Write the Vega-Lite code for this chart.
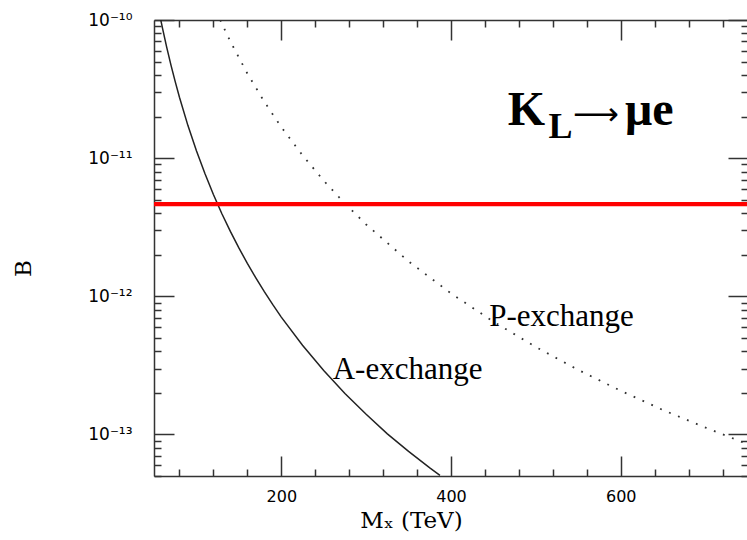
{
  "$schema": "https://vega.github.io/schema/vega-lite/v6.json",
  "width": 594,
  "height": 456,
  "autosize": "none",
  "padding": {"left": 154, "top": 20, "right": 0, "bottom": 64},
  "background": "white",
  "config": {
    "view": {"stroke": null},
    "axis": {
      "grid": false,
      "domainColor": "#333333",
      "domainWidth": 1.5,
      "tickColor": "#333333",
      "tickWidth": 1.5,
      "labelFont": "DejaVu Sans",
      "labelFontSize": 16,
      "labelColor": "#000000",
      "titleFont": "DejaVu Serif",
      "titleFontWeight": "normal",
      "titleFontSize": 23,
      "titleColor": "#000000"
    }
  },
  "datasets": {
    "A": [
      {"M": 58, "B": 1e-10}, {"M": 60, "B": 8.73e-11}, {"M": 65, "B": 6.34e-11},
      {"M": 70, "B": 4.71e-11}, {"M": 75, "B": 3.58e-11}, {"M": 80, "B": 2.76e-11},
      {"M": 90, "B": 1.72e-11}, {"M": 100, "B": 1.13e-11}, {"M": 110, "B": 7.73e-12},
      {"M": 120, "B": 5.46e-12}, {"M": 130, "B": 3.96e-12}, {"M": 140, "B": 2.95e-12},
      {"M": 150, "B": 2.24e-12}, {"M": 160, "B": 1.73e-12}, {"M": 170, "B": 1.36e-12},
      {"M": 180, "B": 1.08e-12}, {"M": 190, "B": 8.69e-13}, {"M": 200, "B": 7.07e-13},
      {"M": 225, "B": 4.42e-13}, {"M": 250, "B": 2.90e-13}, {"M": 275, "B": 1.98e-13},
      {"M": 300, "B": 1.40e-13}, {"M": 325, "B": 1.01e-13}, {"M": 350, "B": 7.54e-14},
      {"M": 375, "B": 5.72e-14}, {"M": 387, "B": 5.05e-14}
    ],
    "P": [
      {"M": 128, "B": 1e-10}, {"M": 140, "B": 6.99e-11}, {"M": 160, "B": 4.10e-11},
      {"M": 180, "B": 2.56e-11}, {"M": 200, "B": 1.68e-11}, {"M": 225, "B": 1.05e-11},
      {"M": 250, "B": 6.87e-12}, {"M": 275, "B": 4.69e-12}, {"M": 300, "B": 3.31e-12},
      {"M": 350, "B": 1.79e-12}, {"M": 400, "B": 1.05e-12}, {"M": 450, "B": 6.55e-13},
      {"M": 500, "B": 4.29e-13}, {"M": 550, "B": 2.93e-13}, {"M": 600, "B": 2.07e-13},
      {"M": 650, "B": 1.50e-13}, {"M": 700, "B": 1.12e-13}, {"M": 750, "B": 8.48e-14}
    ],
    "limit": [{"B": 4.65e-12}],
    "bigText": [
      {"M": 467, "B": 1.73e-11, "t": "K"},
      {"M": 605, "B": 1.73e-11, "t": "μe"}
    ],
    "arrowText": [{"M": 543.8, "B": 1.73e-11, "t": "⟶"}],
    "subText": [{"M": 515, "B": 1.41e-11, "t": "L"}],
    "labels": [
      {"M": 260.6, "B": 2.52e-13, "t": "A-exchange"},
      {"M": 445, "B": 6.13e-13, "t": "P-exchange"}
    ]
  },
  "layer": [
    {
      "data": {"name": "A"},
      "mark": {"type": "line", "color": "#222222", "strokeWidth": 1.5, "clip": true},
      "encoding": {
        "x": {
          "field": "M", "type": "quantitative",
          "scale": {"domain": [50, 750], "nice": false, "zero": false},
          "axis": {
            "orient": "bottom",
            "values": [80, 120, 160, 200, 240, 280, 320, 360, 400, 440, 480, 520, 560, 600, 640, 680, 720],
            "tickSize": {"condition": {"test": "datum.value % 200 === 0", "value": -20}, "value": -7},
            "labelExpr": "datum.value % 200 === 0 ? datum.label : ''",
            "labelPadding": 32,
            "labelOverlap": false,
            "labelFlush": false,
            "title": "Mₓ  (TeV)",
            "titleX": 257,
            "titleY": 51,
            "titleBaseline": "alphabetic"
          }
        },
        "y": {
          "field": "B", "type": "quantitative",
          "scale": {"type": "log", "domain": [5e-14, 1e-10], "nice": false},
          "axis": {
            "orient": "left",
            "values": [5e-14, 6e-14, 7e-14, 8e-14, 9e-14, 1e-13, 2e-13, 3e-13, 4e-13, 5e-13, 6e-13, 7e-13, 8e-13, 9e-13, 1e-12, 2e-12, 3e-12, 4e-12, 5e-12, 6e-12, 7e-12, 8e-12, 9e-12, 1e-11, 2e-11, 3e-11, 4e-11, 5e-11, 6e-11, 7e-11, 8e-11, 9e-11, 1e-10],
            "tickSize": {"condition": {"test": "datum.value == 1e-10 || datum.value == 1e-11 || datum.value == 1e-12 || datum.value == 1e-13", "value": -20}, "value": -7},
            "labelExpr": "datum.value == 1e-10 ? '10⁻¹⁰' : datum.value == 1e-11 ? '10⁻¹¹' : datum.value == 1e-12 ? '10⁻¹²' : datum.value == 1e-13 ? '10⁻¹³' : ''",
            "labelFontSize": 17,
            "labelPadding": 42,
            "labelOverlap": false,
            "labelFlush": false,
            "title": "B",
            "titleX": -131,
            "titleY": 248,
            "titleAngle": 270,
            "titleBaseline": "middle",
            "titleAlign": "center"
          }
        }
      }
    },
    {
      "data": {"name": "P"},
      "mark": {"type": "line", "color": "#333333", "strokeWidth": 1.8, "strokeDash": [1.8, 7.9], "clip": true},
      "encoding": {
        "x": {"field": "M", "type": "quantitative", "axis": null},
        "y": {"field": "B", "type": "quantitative", "axis": null}
      }
    },
    {
      "data": {"name": "limit"},
      "mark": {"type": "rule", "color": "#ff0000", "strokeWidth": 4.3},
      "encoding": {
        "y": {"field": "B", "type": "quantitative", "axis": null}
      }
    },
    {
      "data": {"name": "A"},
      "mark": {"type": "point", "opacity": 0},
      "encoding": {
        "x": {
          "field": "M", "type": "quantitative",
          "axis": {
            "orient": "top",
            "values": [80, 120, 160, 200, 240, 280, 320, 360, 400, 440, 480, 520, 560, 600, 640, 680, 720],
            "tickSize": {"condition": {"test": "datum.value % 200 === 0", "value": -20}, "value": -7},
            "labels": false,
            "title": null
          }
        },
        "y": {
          "field": "B", "type": "quantitative",
          "axis": {
            "orient": "right",
            "values": [5e-14, 6e-14, 7e-14, 8e-14, 9e-14, 1e-13, 2e-13, 3e-13, 4e-13, 5e-13, 6e-13, 7e-13, 8e-13, 9e-13, 1e-12, 2e-12, 3e-12, 4e-12, 5e-12, 6e-12, 7e-12, 8e-12, 9e-12, 1e-11, 2e-11, 3e-11, 4e-11, 5e-11, 6e-11, 7e-11, 8e-11, 9e-11, 1e-10],
            "tickSize": {"condition": {"test": "datum.value == 1e-10 || datum.value == 1e-11 || datum.value == 1e-12 || datum.value == 1e-13", "value": -20}, "value": -7},
            "labels": false,
            "title": null
          }
        }
      }
    },
    {
      "data": {"name": "bigText"},
      "mark": {"type": "text", "font": "Liberation Serif", "fontWeight": "bold", "fontSize": 48, "align": "left", "baseline": "alphabetic", "color": "#000000"},
      "encoding": {
        "x": {"field": "M", "type": "quantitative", "axis": null},
        "y": {"field": "B", "type": "quantitative", "axis": null},
        "text": {"field": "t"}
      }
    },
    {
      "data": {"name": "arrowText"},
      "mark": {"type": "text", "font": "DejaVu Sans", "fontSize": 32, "align": "left", "baseline": "alphabetic", "color": "#000000"},
      "encoding": {
        "x": {"field": "M", "type": "quantitative", "axis": null},
        "y": {"field": "B", "type": "quantitative", "axis": null},
        "text": {"field": "t"}
      }
    },
    {
      "data": {"name": "subText"},
      "mark": {"type": "text", "font": "Liberation Serif", "fontWeight": "bold", "fontSize": 36, "align": "left", "baseline": "alphabetic", "color": "#000000"},
      "encoding": {
        "x": {"field": "M", "type": "quantitative", "axis": null},
        "y": {"field": "B", "type": "quantitative", "axis": null},
        "text": {"field": "t"}
      }
    },
    {
      "data": {"name": "labels"},
      "mark": {"type": "text", "font": "Liberation Serif", "fontSize": 31, "align": "left", "baseline": "alphabetic", "color": "#000000"},
      "encoding": {
        "x": {"field": "M", "type": "quantitative", "axis": null},
        "y": {"field": "B", "type": "quantitative", "axis": null},
        "text": {"field": "t"}
      }
    }
  ],
  "resolve": {"axis": {"x": "independent", "y": "independent"}}
}
